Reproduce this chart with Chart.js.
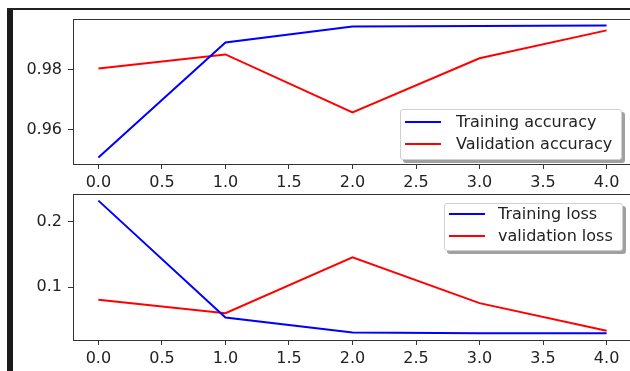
<!DOCTYPE html>
<html>
<head>
<meta charset="utf-8">
<script src="https://cdn.jsdelivr.net/npm/chart.js@4"></script>
<style>
  html, body { margin: 0; padding: 0; background: #fff; overflow: hidden; width: 630px; height: 371px; }
  #frameL { position: absolute; left: 7px; top: 9px; width: 6px; height: 362px; background: #1a1a1a; }
  #frameT { position: absolute; left: 7px; top: 8px; width: 623px; height: 2px; background: #222; }
  canvas { position: absolute; left: 0; }
  #accCanvas { top: 0; }
  #lossCanvas { top: 175px; }
  .legend { position: absolute; background: #fff; border: 1px solid #d0d0d0; border-radius: 3px;
    box-shadow: 3px 3px 0 #a0a0a0; font-family: "DejaVu Sans", sans-serif; font-size: 16px; color: #222; }
  .legend .row { position: absolute; height: 20px; line-height: 20px; white-space: nowrap; }
  .legend .swatch { position: absolute; top: 9px; height: 2px; width: 36px; }
  .legend .txt { position: absolute; top: 0; }
</style>
</head>
<body>
<div id="frameL"></div>
<div id="frameT"></div>
<canvas id="accCanvas" width="640" height="190"></canvas>
<canvas id="lossCanvas" width="640" height="191"></canvas>

<div class="legend" style="left:400px; top:109px; width:220px; height:49px;">
  <div class="row" style="left:4px; top:2px;"><span class="swatch" style="background:#0000ff;"></span><span class="txt" style="left:51px;">Training accuracy</span></div>
  <div class="row" style="left:4px; top:24px;"><span class="swatch" style="background:#ff0000;"></span><span class="txt" style="left:51px;">Validation accuracy</span></div>
</div>
<div class="legend" style="left:444px; top:203px; width:177px; height:46px;">
  <div class="row" style="left:4px; top:0px;"><span class="swatch" style="background:#0000ff;"></span><span class="txt" style="left:49px;">Training loss</span></div>
  <div class="row" style="left:4px; top:22px;"><span class="swatch" style="background:#ff0000;"></span><span class="txt" style="left:49px;">validation loss</span></div>
</div>

<script>
const epochs = [0, 1, 2, 3, 4];
const trainAcc = [0.9507, 0.9890, 0.9943, 0.9945, 0.9946];
const valAcc = [0.9803, 0.9850, 0.9657, 0.9837, 0.9930];
const trainLoss = [0.232, 0.0538, 0.0312, 0.0300, 0.0297];
const valLoss = [0.081, 0.0605, 0.1457, 0.0758, 0.0338];
const xTicks = [0, 0.5, 1, 1.5, 2, 2.5, 3, 3.5, 4];
const accTicks = [0.96, 0.98];
const lossTicks = [0.1, 0.2];

const FONT = { family: '"DejaVu Sans", sans-serif', size: 16 };

// matplotlib-like full box around the axes
const boxPlugin = {
  id: 'box',
  afterDraw(chart) {
    const a = chart.chartArea, ctx = chart.ctx;
    ctx.save();
    ctx.strokeStyle = '#333';
    ctx.lineWidth = 1;
    ctx.strokeRect(Math.round(a.left) + 0.5, Math.round(a.top) + 0.5,
      Math.round(a.right - a.left), Math.round(a.bottom - a.top));
    ctx.restore();
  }
};

function points(ys) {
  return epochs.map((e, i) => ({ x: e, y: ys[i] }));
}

// 5% margins like matplotlib autoscale
function range(...series) {
  const all = [].concat(...series);
  const lo = Math.min(...all), hi = Math.max(...all), pad = (hi - lo) * 0.05;
  return [lo - pad, hi + pad];
}

function makeChart(id, series, yTicks) {
  const [ymin, ymax] = range(...series.map(s => s.data));
  return new Chart(document.getElementById(id), {
    type: 'line',
    data: {
      datasets: series.map(s => ({
        label: s.label,
        data: points(s.data),
        borderColor: s.color,
        borderWidth: 2,
        pointRadius: 0,
        tension: 0,
        fill: false
      }))
    },
    options: {
      responsive: false,
      animation: false,
      layout: { padding: { top: 19, right: 8, left: 0, bottom: 0 } },
      plugins: { legend: { display: false }, tooltip: { enabled: false } },
      scales: {
        x: {
          type: 'linear',
          min: -0.2,
          max: 4.2,
          afterBuildTicks(s) { s.ticks = xTicks.map(v => ({ value: v })); },
          afterFit(s) { s.height = 26; },
          border: { display: false },
          grid: { drawOnChartArea: false, drawTicks: true, tickLength: 5, tickColor: '#333' },
          ticks: { font: FONT, color: '#222', padding: 4, maxRotation: 0,
            callback: v => v.toFixed(1) }
        },
        y: {
          min: ymin,
          max: ymax,
          afterBuildTicks(s) { s.ticks = yTicks.map(v => ({ value: v })); },
          afterFit(s) { s.width = 73; },
          border: { display: false },
          grid: { drawOnChartArea: false, drawTicks: true, tickLength: 5, tickColor: '#333' },
          ticks: { font: FONT, color: '#222', padding: 6,
            callback: v => String(+v.toFixed(2)) }
        }
      }
    },
    plugins: [boxPlugin]
  });
}

makeChart('accCanvas', [
  { label: 'Training accuracy', data: trainAcc, color: '#0000ff' },
  { label: 'Validation accuracy', data: valAcc, color: '#ff0000' }
], accTicks);

makeChart('lossCanvas', [
  { label: 'Training loss', data: trainLoss, color: '#0000ff' },
  { label: 'validation loss', data: valLoss, color: '#ff0000' }
], lossTicks);
</script>
</body>
</html>
